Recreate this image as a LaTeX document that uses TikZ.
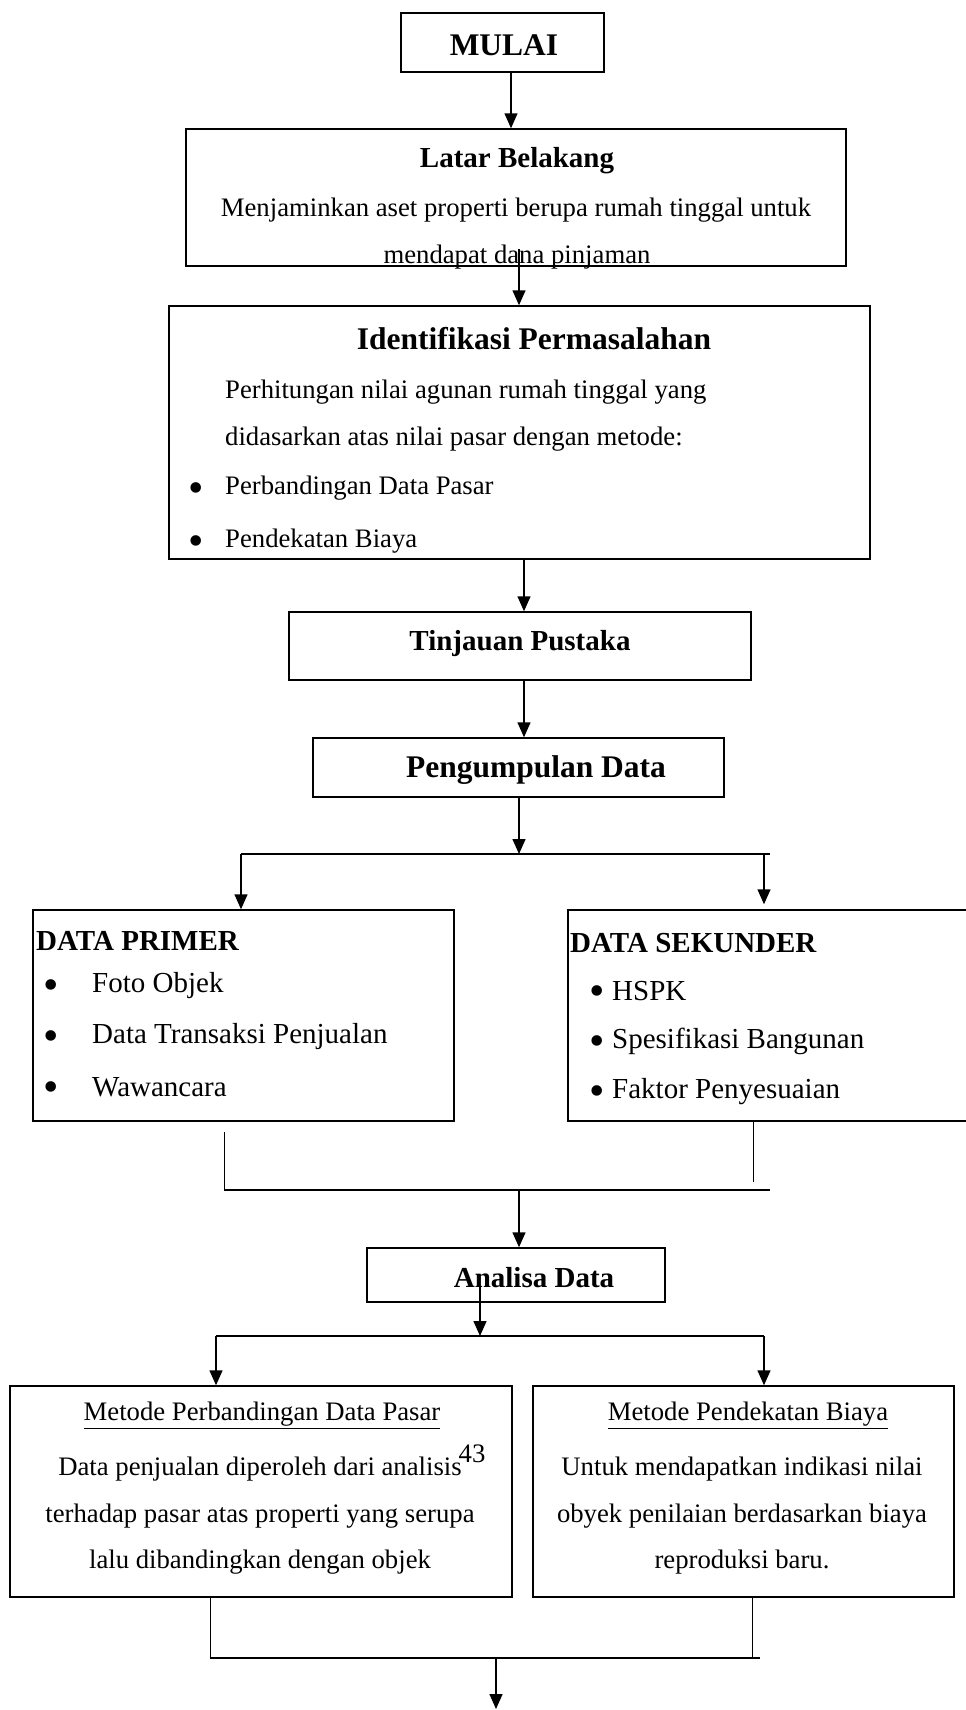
\documentclass[tikz,border=0pt]{standalone}
\usepackage{fontspec}
\setmainfont{Liberation Serif}
\usetikzlibrary{arrows.meta}

\begin{document}
\begin{tikzpicture}[x=1pt, y=-1pt,
    box/.style={draw, line width=1.5pt, inner sep=0pt},
    arrow/.style={line width=1.5pt, -{Triangle[length=15pt,width=13pt]}},
    link/.style={line width=1.5pt},
    thinlink/.style={line width=1pt},
    txt/.style={inner sep=0pt, yshift=-3.5pt, font=\fontsize{26.7}{32}\selectfont},
    item/.style={inner sep=0pt, yshift=-3.5pt, font=\fontsize{29}{34}\selectfont},
    dot/.style={inner sep=0pt, yshift=-7.5pt, font=\fontsize{44}{44}\selectfont},
    head/.style={inner sep=0pt, yshift=-2.5pt, font=\fontsize{29}{34}\selectfont\bfseries},
    bighead/.style={inner sep=0pt, yshift=-1.5pt, font=\fontsize{31.5}{38}\selectfont\bfseries}]

    % Page size
    \useasboundingbox (0,0) rectangle (966,1710);

    % Draw start box
    \node[box, minimum width=203pt, minimum height=59pt] (mulai) at (502.5,42.5) {};
    \node[bighead] (mulaiText) at (504,44) {MULAI};

    % Draw background box
    \node[box, minimum width=660pt, minimum height=137pt] (latar) at (516,197.5) {};
    \node[head] (latarTitle) at (517,158) {Latar Belakang};
    \node[txt] (latarLineA) at (516,207) {Menjaminkan aset properti berupa rumah tinggal untuk};
    \node[txt] (latarLineB) at (517,254) {mendapat dana pinjaman};

    % Draw problem box
    \node[box, minimum width=701pt, minimum height=253pt] (ident) at (519.5,432.5) {};
    \node[bighead] (identTitle) at (534,337) {Identifikasi Permasalahan};
    \node[txt, anchor=west] (identLineA) at (225,389) {Perhitungan nilai agunan rumah tinggal yang};
    \node[txt, anchor=west] (identLineB) at (225,436) {didasarkan atas nilai pasar dengan metode:};
    \node[dot] (identBulA) at (196,485) {\textbullet};
    \node[txt, anchor=west] (identLineC) at (225,485) {Perbandingan Data Pasar};
    \node[dot] (identBulB) at (196,538) {\textbullet};
    \node[txt, anchor=west] (identLineD) at (225,538) {Pendekatan Biaya};

    % Draw literature and data boxes
    \node[box, minimum width=462pt, minimum height=68pt] (tinjau) at (520,646) {};
    \node[head] (tinjauText) at (520,641) {Tinjauan Pustaka};
    \node[box, minimum width=411pt, minimum height=59pt] (kumpul) at (518.5,767.5) {};
    \node[bighead] (kumpulText) at (536,769) {Pengumpulan Data};

    % Draw primary data box
    \node[box, minimum width=421pt, minimum height=211pt] (primer) at (243.5,1015.5) {};
    \node[head, anchor=west] (primerTitle) at (36,938) {DATA PRIMER};
    \foreach \y/\t [count=\i] in {982/Foto Objek, 1033/Data Transaksi Penjualan, 1084/Wawancara} {
        \node[dot] (primerBul\i) at (51,\y) {\textbullet};
        \node[item, anchor=west] (primerItem\i) at (92,\y) {\t};
    }

    % Draw secondary data box
    \node[box, minimum width=403pt, minimum height=211pt] (sekunder) at (769.5,1015.5) {};
    \node[head, anchor=west] (sekunderTitle) at (570,941) {DATA SEKUNDER};
    \foreach \y/\t [count=\i] in {988/HSPK, 1038/Spesifikasi Bangunan, 1088/Faktor Penyesuaian} {
        \node[dot] (sekunderBul\i) at (597,\y) {\textbullet};
        \node[item, anchor=west] (sekunderItem\i) at (612,\y) {\t};
    }

    % Draw analysis box
    \node[box, minimum width=298pt, minimum height=54pt] (analisa) at (516,1275) {};
    \node[head] (analisaText) at (534,1275) {Analisa Data};

    % Draw method boxes
    \node[box, minimum width=502pt, minimum height=211pt] (pasar) at (261,1491.5) {};
    \node[txt] (pasarTitle) at (262,1412) {\underline{Metode Perbandingan Data Pasar}};
    \node[txt] (pasarLineA) at (260,1466) {Data penjualan diperoleh dari analisis};
    \node[txt] (pasarLineB) at (260,1513) {terhadap pasar atas properti yang serupa};
    \node[txt] (pasarLineC) at (260,1559) {lalu dibandingkan dengan objek};
    \node[txt] (pageNum) at (472,1450) {43};

    \node[box, minimum width=421pt, minimum height=211pt] (biaya) at (743.5,1491.5) {};
    \node[txt] (biayaTitle) at (748,1412) {\underline{Metode Pendekatan Biaya}};
    \node[txt] (biayaLineA) at (742,1466) {Untuk mendapatkan indikasi nilai};
    \node[txt] (biayaLineB) at (742,1513) {obyek penilaian berdasarkan biaya};
    \node[txt] (biayaLineC) at (742,1559) {reproduksi baru.};

    % Define junction points
    \coordinate (latarIn) at (519,249);
    \coordinate (splitA) at (519,854);
    \coordinate (splitAL) at (241,854);
    \coordinate (splitAR) at (770,854);
    \coordinate (joinAL) at (224,1190);
    \coordinate (joinAR) at (770,1190);
    \coordinate (analisaIn) at (480,1287);
    \coordinate (splitB) at (480,1336);
    \coordinate (splitBL) at (216,1336);
    \coordinate (splitBR) at (764,1336);
    \coordinate (joinBL) at (210,1658);
    \coordinate (joinBR) at (760,1658);
    \coordinate (finish) at (496,1709);

    % Draw main flow
    \draw[arrow] (511,0 |- mulai.south) -- (511,0 |- latar.north);
    \draw[arrow] (latarIn) -- (latarIn |- ident.north);
    \draw[arrow] (524,0 |- ident.south) -- (524,0 |- tinjau.north);
    \draw[arrow] (524,0 |- tinjau.south) -- (524,0 |- kumpul.north);
    \draw[arrow] (splitA |- kumpul.south) -- (splitA);

    % Draw split to data boxes
    \draw[link] (splitAL) -- (splitAR);
    \draw[arrow] (splitAL) -- (splitAL |- primer.north);
    \draw[arrow] (764,854) -- ([yshift=5pt]764,0 |- sekunder.north);

    % Draw join to analysis
    \draw[thinlink] ([yshift=-10pt]joinAL |- primer.south) -- (joinAL);
    \draw[thinlink] (753,0 |- sekunder.south) -- (753,1182);
    \draw[link] (joinAL) -- (joinAR);
    \draw[arrow] (519,1190) -- (519,0 |- analisa.north);

    % Draw split to method boxes
    \draw[arrow] (analisaIn) -- (splitB);
    \draw[link] (splitBL) -- (splitBR);
    \draw[arrow] (splitBL) -- (splitBL |- pasar.north);
    \draw[arrow] (splitBR) -- (splitBR |- biaya.north);

    % Draw final join
    \draw[thinlink] (210,0 |- pasar.south) -- (joinBL);
    \draw[thinlink] (752,0 |- biaya.south) -- (752,1658);
    \draw[link] (joinBL) -- (joinBR);
    \draw[arrow] (finish |- joinBL) -- (finish);

\end{tikzpicture}
\end{document}
